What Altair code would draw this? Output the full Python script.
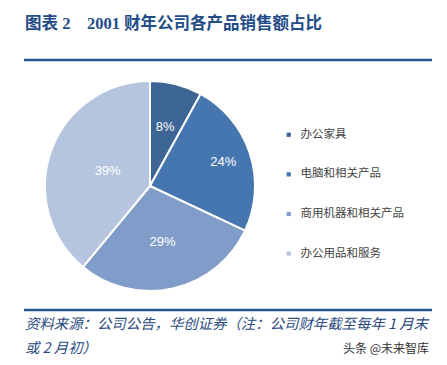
import altair as alt
import pandas as pd

categories = ["办公家具", "电脑和相关产品", "商用机器和相关产品", "办公用品和服务"]
shares = [8, 24, 29, 39]
labels = ["8%", "24%", "29%", "39%"]

colors = ["#3D6595", "#4676B0", "#7F9DC8", "#B5C4DF"]
label_radius = [61, 77, 57, 45]

df = pd.DataFrame({
    "category": categories,
    "share": shares,
    "label": labels,
    "order": list(range(len(categories))),
    "lr": label_radius,
})

W, H = 431, 349
CX, CY, R = 142, 178, 105
BLUE = "#234C87"
FONT = "Noto Sans CJK SC"

base = alt.Chart(df).transform_joinaggregate(
    total="sum(share)"
).transform_window(
    cum="sum(share)", sort=[alt.SortField("order")], frame=[None, 0]
).transform_calculate(
    a0="(datum.cum - datum.share) / datum.total * 2 * PI",
    a1="datum.cum / datum.total * 2 * PI",
    am="(datum.cum - datum.share / 2) / datum.total * 2 * PI",
)

color = alt.Color(
    "category:N",
    scale=alt.Scale(domain=categories, range=colors),
    sort=categories,
    legend=alt.Legend(
        title=None, orient="none", legendX=275, legendY=121,
        symbolType="square", symbolSize=18, symbolStrokeWidth=0,
        labelFont=FONT, labelFontSize=11.5, labelColor="#444444",
        rowPadding=26.6, labelOffset=6, padding=0,
    ),
)

pie = base.mark_arc(outerRadius=R, stroke="white", strokeWidth=2).encode(
    theta=alt.Theta("a0:Q", scale=None),
    theta2="a1:Q",
    color=color,
    x=alt.value(CX), y=alt.value(CY),
)

pie_labels = base.mark_text(font="Liberation Sans", fontSize=13, color="white").encode(
    theta=alt.Theta("am:Q", scale=None),
    radius=alt.Radius("lr:Q", scale=None),
    text="label:N",
    x=alt.value(CX), y=alt.value(CY),
)

def txt(s, x, y, **kw):
    return alt.Chart(pd.DataFrame({"t": [s]})).mark_text(baseline="alphabetic", **kw).encode(
        text="t:N", x=alt.value(x), y=alt.value(y))

title = txt("图表 2　2001 财年公司各产品销售额占比", 17, 21, align="left", font="Liberation Serif, " + FONT,
            fontSize=16.5, fontWeight="bold", color=BLUE)
src1 = txt("资料来源：公司公告，华创证券（注：公司财年截至每年 1 月末", 17, 321, align="left", font=FONT,
           fontSize=14.4, fontStyle="italic", color="#2A4A80")
src2 = txt("或 2 月初）", 17, 345, align="left", font=FONT, fontSize=14.4, fontStyle="italic", color="#2A4A80")
wm = txt("头条 @未来智库", 421, 345, align="right", font=FONT, fontSize=12, color="#333333")

def rule(y):
    return alt.Chart(pd.DataFrame({"a": [0]})).mark_rule(color="#24538F", strokeWidth=2.5).encode(
        x=alt.value(16), x2=alt.value(424), y=alt.value(y))

chart = alt.layer(pie, pie_labels, title, src1, src2, wm, rule(52), rule(302)).properties(
    width=W, height=H, autosize=alt.AutoSizeParams(type="none"), padding=0,
).configure_view(stroke=None)

chart.save("out.html", embed_options={"renderer": "svg", "actions": False})
